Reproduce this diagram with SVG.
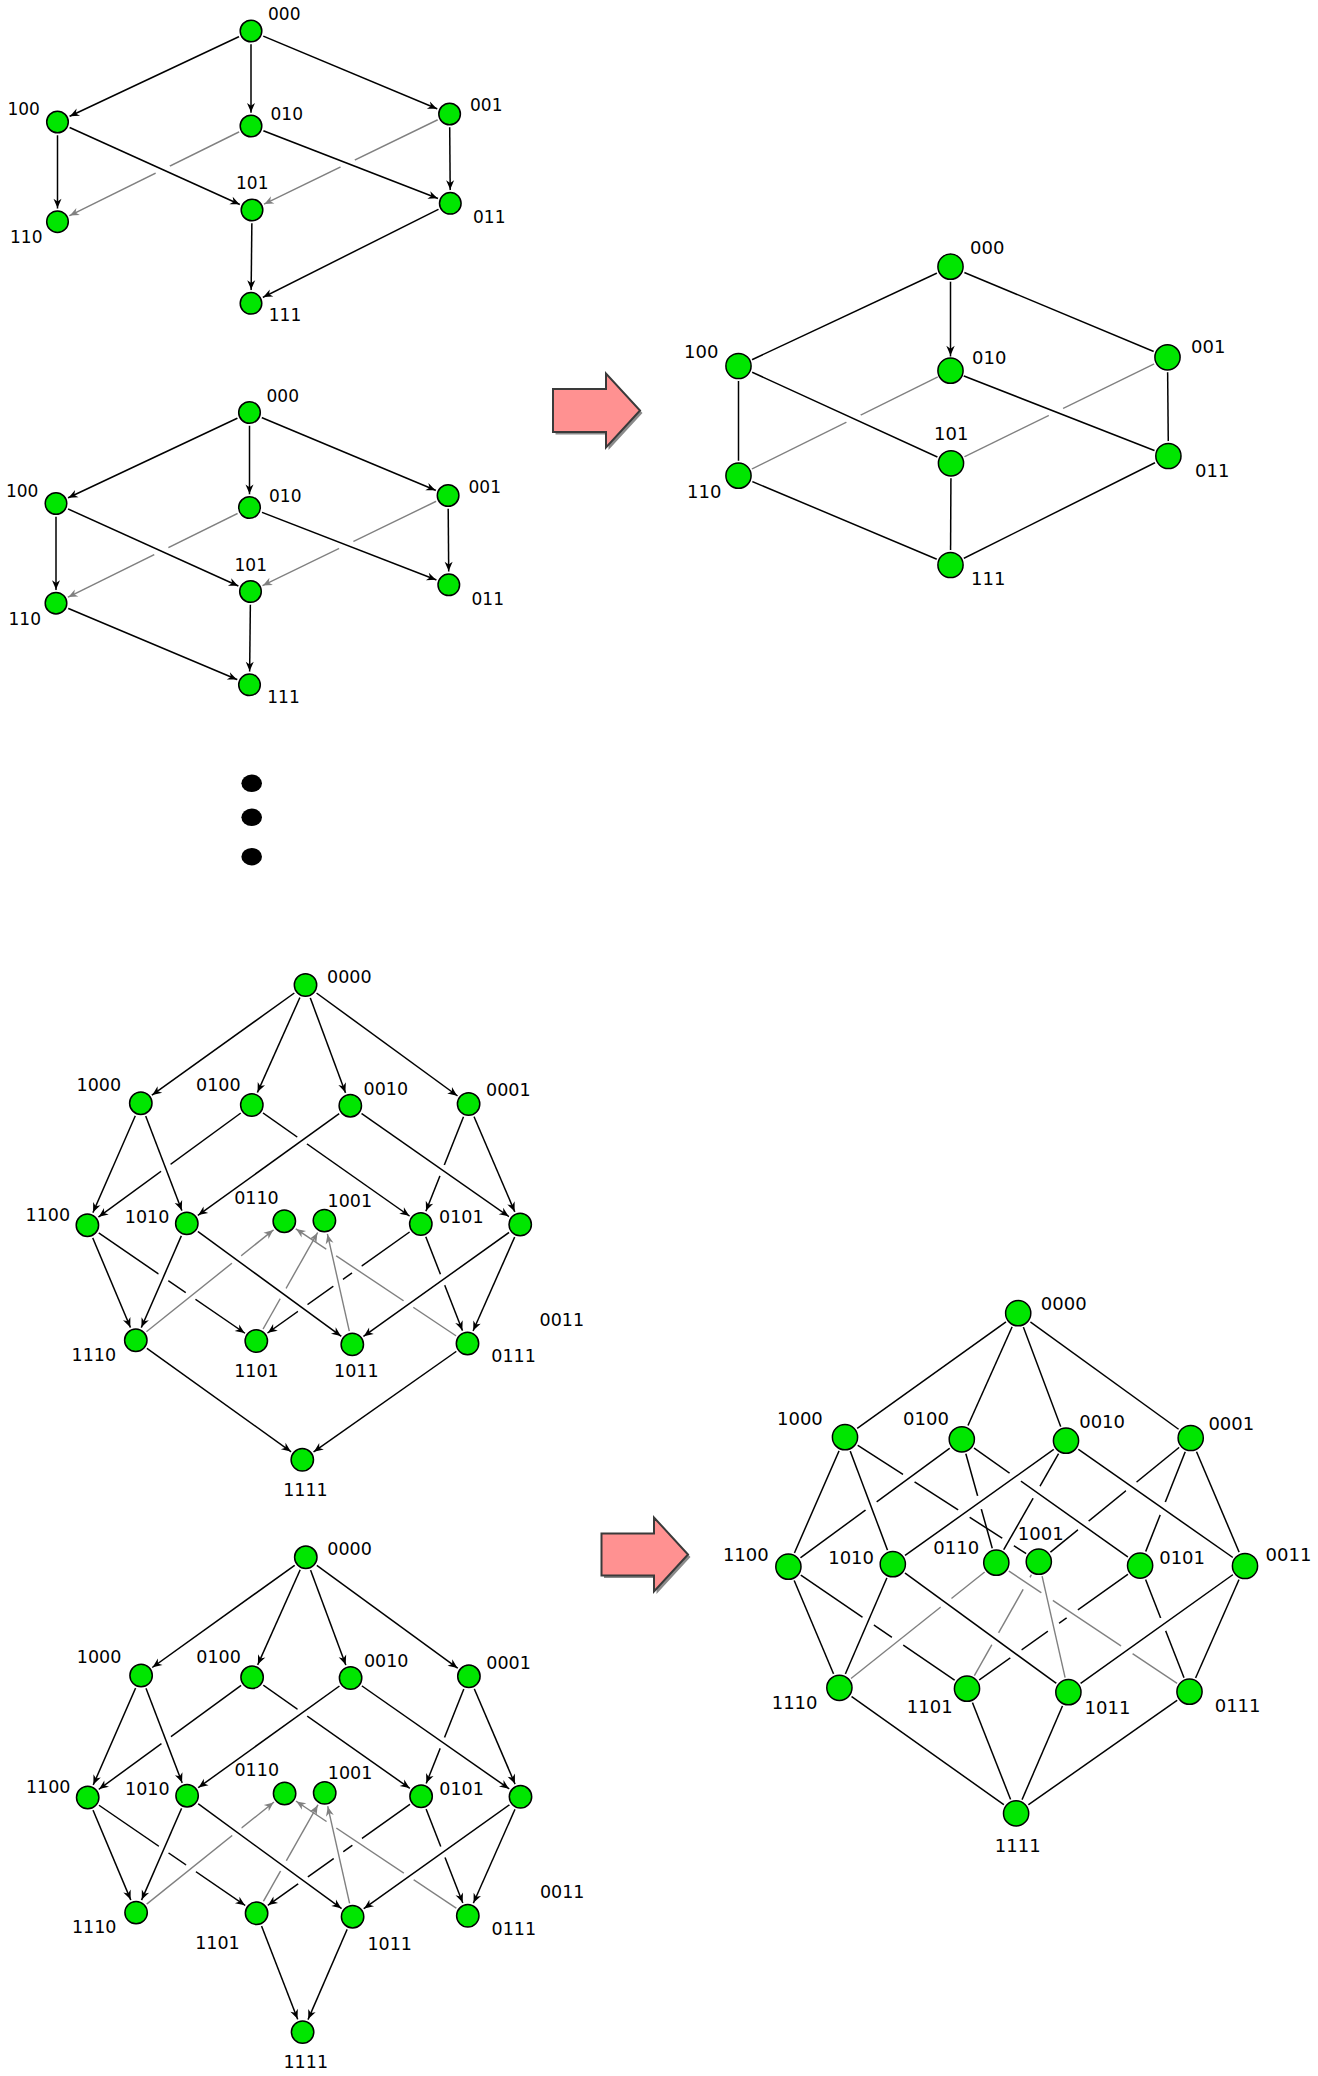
<svg xmlns="http://www.w3.org/2000/svg" width="1318" height="2076" viewBox="0 0 1318 2076">
<style>
.k{stroke:#000;stroke-width:1.5;fill:none}
.g{stroke:#808080;stroke-width:1.4;fill:none}
.n{fill:#00e600;stroke:#000;stroke-width:1.5}
.w{fill:#fff;stroke:none}
text{font-family:"DejaVu Sans",Verdana,sans-serif;fill:#000}
.f17{font-size:17px}
.f175{font-size:17.5px}
.f18{font-size:18px}
.arrow{fill:#ff9191;stroke:#3a3a3a;stroke-width:2;stroke-linejoin:miter}
.shadow{fill:#8a8a8a;stroke:none}
marker{overflow:visible}
</style>
<defs>
<marker id="k1" markerUnits="userSpaceOnUse" orient="auto" overflow="visible" markerWidth="1" markerHeight="1" refX="0" refY="0"><path d="M-13.8,0 L-23,-4 L-20.2,0 L-23,4 Z" fill="#000"/></marker>
<marker id="g1" markerUnits="userSpaceOnUse" orient="auto" overflow="visible" markerWidth="1" markerHeight="1" refX="0" refY="0"><path d="M-13.8,0 L-23,-4 L-20.2,0 L-23,4 Z" fill="#808080"/></marker>
<marker id="k3" markerUnits="userSpaceOnUse" orient="auto" overflow="visible" markerWidth="1" markerHeight="1" refX="0" refY="0"><path d="M-15.2,0 L-25,-4.2 L-22,0 L-25,4.2 Z" fill="#000"/></marker>
<marker id="k4" markerUnits="userSpaceOnUse" orient="auto" overflow="visible" markerWidth="1" markerHeight="1" refX="0" refY="0"><path d="M-14.2,0 L-23.5,-4 L-20.7,0 L-23.5,4 Z" fill="#000"/></marker>
<marker id="g4" markerUnits="userSpaceOnUse" orient="auto" overflow="visible" markerWidth="1" markerHeight="1" refX="0" refY="0"><path d="M-14.2,0 L-23.5,-4 L-20.7,0 L-23.5,4 Z" fill="#808080"/></marker>
</defs>
<rect width="1318" height="2076" fill="#fff"/>

<!-- Diagram 1 -->
<g id="d1">
<g id="d1-connectors">
<line class="g" x1="251" y1="126" x2="57.5" y2="221.7" marker-end="url(#g1)"/>
<line class="g" x1="449.6" y1="114" x2="252" y2="210" marker-end="url(#g1)"/>
<circle class="w" cx="162.8" cy="169.6" r="8"/>
<circle class="w" cx="347.7" cy="163.5" r="8"/>
<line class="k" x1="251" y1="31" x2="57.5" y2="122" marker-end="url(#k1)"/>
<line class="k" x1="251" y1="31" x2="251" y2="126" marker-end="url(#k1)"/>
<line class="k" x1="251" y1="31" x2="449.6" y2="114" marker-end="url(#k1)"/>
<line class="k" x1="57.5" y1="122" x2="57.5" y2="221.7" marker-end="url(#k1)"/>
<line class="k" x1="57.5" y1="122" x2="252" y2="210" marker-end="url(#k1)"/>
<line class="k" x1="251" y1="126" x2="450.3" y2="203.3" marker-end="url(#k1)"/>
<line class="k" x1="449.6" y1="114" x2="450.3" y2="203.3" marker-end="url(#k1)"/>
<line class="k" x1="252" y1="210" x2="251" y2="303.3" marker-end="url(#k1)"/>
<line class="k" x1="450.3" y1="203.3" x2="251" y2="303.3" marker-end="url(#k1)"/>
</g>
<g id="d1-000"><circle class="w" cx="251" cy="31" r="13.3"/><circle class="n" cx="251" cy="31" r="10.8"/><text class="f17" x="268" y="20">000</text></g>
<g id="d1-100"><circle class="w" cx="57.5" cy="122" r="13.3"/><circle class="n" cx="57.5" cy="122" r="10.8"/><text class="f17" x="7.4" y="115">100</text></g>
<g id="d1-010"><circle class="w" cx="251" cy="126" r="13.3"/><circle class="n" cx="251" cy="126" r="10.8"/><text class="f17" x="270.5" y="120">010</text></g>
<g id="d1-001"><circle class="w" cx="449.6" cy="114" r="13.3"/><circle class="n" cx="449.6" cy="114" r="10.8"/><text class="f17" x="470" y="111">001</text></g>
<g id="d1-110"><circle class="w" cx="57.5" cy="221.7" r="13.3"/><circle class="n" cx="57.5" cy="221.7" r="10.8"/><text class="f17" x="10" y="243">110</text></g>
<g id="d1-101"><circle class="w" cx="252" cy="210" r="13.3"/><circle class="n" cx="252" cy="210" r="10.8"/><text class="f17" x="236" y="189">101</text></g>
<g id="d1-011"><circle class="w" cx="450.3" cy="203.3" r="13.3"/><circle class="n" cx="450.3" cy="203.3" r="10.8"/><text class="f17" x="473" y="223">011</text></g>
<g id="d1-111"><circle class="w" cx="251" cy="303.3" r="13.3"/><circle class="n" cx="251" cy="303.3" r="10.8"/><text class="f17" x="268.8" y="321">111</text></g>
</g>

<!-- Diagram 2 -->
<g id="d2" transform="translate(-1.5,381.5)">
<g id="d2-connectors">
<line class="g" x1="251" y1="126" x2="57.5" y2="221.7" marker-end="url(#g1)"/>
<line class="g" x1="449.6" y1="114" x2="252" y2="210" marker-end="url(#g1)"/>
<circle class="w" cx="162.8" cy="169.6" r="8"/>
<circle class="w" cx="347.7" cy="163.5" r="8"/>
<line class="k" x1="251" y1="31" x2="57.5" y2="122" marker-end="url(#k1)"/>
<line class="k" x1="251" y1="31" x2="251" y2="126" marker-end="url(#k1)"/>
<line class="k" x1="251" y1="31" x2="449.6" y2="114" marker-end="url(#k1)"/>
<line class="k" x1="57.5" y1="122" x2="57.5" y2="221.7" marker-end="url(#k1)"/>
<line class="k" x1="57.5" y1="122" x2="252" y2="210" marker-end="url(#k1)"/>
<line class="k" x1="251" y1="126" x2="450.3" y2="203.3" marker-end="url(#k1)"/>
<line class="k" x1="449.6" y1="114" x2="450.3" y2="203.3" marker-end="url(#k1)"/>
<line class="k" x1="252" y1="210" x2="251" y2="303.3" marker-end="url(#k1)"/>
<line class="k" x1="57.5" y1="221.7" x2="251" y2="303.3" marker-end="url(#k1)"/>
</g>
<g id="d2-000"><circle class="w" cx="251" cy="31" r="13.3"/><circle class="n" cx="251" cy="31" r="10.8"/><text class="f17" x="268" y="20">000</text></g>
<g id="d2-100"><circle class="w" cx="57.5" cy="122" r="13.3"/><circle class="n" cx="57.5" cy="122" r="10.8"/><text class="f17" x="7.4" y="115">100</text></g>
<g id="d2-010"><circle class="w" cx="251" cy="126" r="13.3"/><circle class="n" cx="251" cy="126" r="10.8"/><text class="f17" x="270.5" y="120">010</text></g>
<g id="d2-001"><circle class="w" cx="449.6" cy="114" r="13.3"/><circle class="n" cx="449.6" cy="114" r="10.8"/><text class="f17" x="470" y="111">001</text></g>
<g id="d2-110"><circle class="w" cx="57.5" cy="221.7" r="13.3"/><circle class="n" cx="57.5" cy="221.7" r="10.8"/><text class="f17" x="10" y="243">110</text></g>
<g id="d2-101"><circle class="w" cx="252" cy="210" r="13.3"/><circle class="n" cx="252" cy="210" r="10.8"/><text class="f17" x="236" y="189">101</text></g>
<g id="d2-011"><circle class="w" cx="450.3" cy="203.3" r="13.3"/><circle class="n" cx="450.3" cy="203.3" r="10.8"/><text class="f17" x="473" y="223">011</text></g>
<g id="d2-111"><circle class="w" cx="251" cy="303.3" r="13.3"/><circle class="n" cx="251" cy="303.3" r="10.8"/><text class="f17" x="268.8" y="321">111</text></g>
</g>

<!-- Block arrows -->
<g id="arrow1">
<polygon class="shadow" points="555.5,391.5 608.5,391.5 608.5,376 642.5,413 608.5,450 608.5,434.5 555.5,434.5"/>
<polygon class="arrow" points="553,389 606,389 606,373.5 640,410.5 606,447.5 606,432 553,432"/>
</g>
<g id="arrow2">
<polygon class="shadow" points="604,1536 656.5,1536 656.5,1520 690.5,1557 656.5,1594 656.5,1578 604,1578"/>
<polygon class="arrow" points="601.5,1533.5 654,1533.5 654,1517.5 688,1554.5 654,1591.5 654,1575.5 601.5,1575.5"/>
</g>

<!-- Diagram 3 -->
<g id="d3">
<g id="d3-connectors">
<line class="g" x1="950.5" y1="370.7" x2="738.5" y2="475.7"/>
<line class="g" x1="1167.5" y1="357.3" x2="951" y2="463.3"/>
<circle class="w" cx="853.6" cy="418.7" r="8"/>
<circle class="w" cx="1055.9" cy="412" r="8"/>
<line class="k" x1="950.5" y1="266.7" x2="738.5" y2="366"/>
<line class="k" x1="950.5" y1="266.7" x2="950.5" y2="370.7" marker-end="url(#k3)"/>
<line class="k" x1="950.5" y1="266.7" x2="1167.5" y2="357.3"/>
<line class="k" x1="738.5" y1="366" x2="738.5" y2="475.7"/>
<line class="k" x1="738.5" y1="366" x2="951" y2="463.3"/>
<line class="k" x1="950.5" y1="370.7" x2="1168.4" y2="456"/>
<line class="k" x1="1167.5" y1="357.3" x2="1168.4" y2="456"/>
<line class="k" x1="951" y1="463.3" x2="950.5" y2="565"/>
<line class="k" x1="738.5" y1="475.7" x2="950.5" y2="565"/>
<line class="k" x1="1168.4" y1="456" x2="950.5" y2="565"/>
</g>
<g id="d3-000"><circle class="w" cx="950.5" cy="266.7" r="15"/><circle class="n" cx="950.5" cy="266.7" r="12.6"/><text class="f18" x="970" y="254">000</text></g>
<g id="d3-100"><circle class="w" cx="738.5" cy="366" r="15"/><circle class="n" cx="738.5" cy="366" r="12.6"/><text class="f18" x="684" y="358">100</text></g>
<g id="d3-010"><circle class="w" cx="950.5" cy="370.7" r="14.2"/><circle class="n" cx="950.5" cy="370.7" r="12.6"/><text class="f18" x="972" y="364">010</text></g>
<g id="d3-001"><circle class="w" cx="1167.5" cy="357.3" r="15"/><circle class="n" cx="1167.5" cy="357.3" r="12.6"/><text class="f18" x="1191" y="353">001</text></g>
<g id="d3-110"><circle class="w" cx="738.5" cy="475.7" r="15"/><circle class="n" cx="738.5" cy="475.7" r="12.6"/><text class="f18" x="687" y="498">110</text></g>
<g id="d3-101"><circle class="w" cx="951" cy="463.3" r="15"/><circle class="n" cx="951" cy="463.3" r="12.6"/><text class="f18" x="934" y="440">101</text></g>
<g id="d3-011"><circle class="w" cx="1168.4" cy="456" r="15"/><circle class="n" cx="1168.4" cy="456" r="12.6"/><text class="f18" x="1195" y="477">011</text></g>
<g id="d3-111"><circle class="w" cx="950.5" cy="565" r="15"/><circle class="n" cx="950.5" cy="565" r="12.6"/><text class="f18" x="971" y="585">111</text></g>
</g>

<!-- Ellipsis dots -->
<g id="dots">
<ellipse cx="251.7" cy="783.3" rx="10.3" ry="8.7" fill="#000"/>
<ellipse cx="251.7" cy="817.3" rx="10.3" ry="8.7" fill="#000"/>
<ellipse cx="251.7" cy="856.7" rx="10.3" ry="8.7" fill="#000"/>
</g>

<!-- Diagram 4 -->
<g id="d4">
<g id="d4-connectors">
<line class="k" x1="251.8" y1="1105" x2="87.4" y2="1225.2" marker-end="url(#k4)"/>
<line class="k" x1="251.8" y1="1105" x2="420.8" y2="1224" marker-end="url(#k4)"/>
<line class="k" x1="468.6" y1="1104" x2="420.8" y2="1224" marker-end="url(#k4)"/>
<line class="k" x1="87.4" y1="1225.2" x2="256.3" y2="1341" marker-end="url(#k4)"/>
<line class="k" x1="420.8" y1="1224" x2="256.3" y2="1341" marker-end="url(#k4)"/>
<line class="k" x1="420.8" y1="1224" x2="467.5" y2="1343.5" marker-end="url(#k4)"/>
<circle class="w" cx="165.8" cy="1167.7" r="6"/>
<circle class="w" cx="302.2" cy="1140.3" r="6"/>
<circle class="w" cx="442.3" cy="1170.6" r="6"/>
<circle class="w" cx="163.3" cy="1277.4" r="6"/>
<circle class="w" cx="190.6" cy="1296.1" r="6"/>
<circle class="w" cx="356.8" cy="1269.5" r="6"/>
<circle class="w" cx="338.1" cy="1282.8" r="6"/>
<circle class="w" cx="442.6" cy="1279.8" r="6"/>
<circle class="w" cx="302.7" cy="1307.9" r="6"/>
<line class="g" x1="135.8" y1="1340.3" x2="284.3" y2="1221.2" marker-end="url(#g4)"/>
<line class="g" x1="256.3" y1="1341" x2="324.4" y2="1220.6" marker-end="url(#g4)"/>
<circle class="w" cx="236.4" cy="1259.3" r="6"/>
<circle class="w" cx="283" cy="1293.4" r="6"/>
<line class="g" x1="467.5" y1="1343.5" x2="284.3" y2="1221.2" marker-end="url(#g4)"/>
<circle class="w" cx="408.5" cy="1304" r="6"/>
<circle class="w" cx="331.2" cy="1252.4" r="6"/>
<line class="g" x1="352.3" y1="1344.4" x2="324.4" y2="1220.6" marker-end="url(#g4)"/>
<line class="k" x1="305.5" y1="985" x2="140.8" y2="1103.2" marker-end="url(#k4)"/>
<line class="k" x1="305.5" y1="985" x2="251.8" y2="1105" marker-end="url(#k4)"/>
<line class="k" x1="305.5" y1="985" x2="350.3" y2="1105.7" marker-end="url(#k4)"/>
<line class="k" x1="305.5" y1="985" x2="468.6" y2="1104" marker-end="url(#k4)"/>
<line class="k" x1="140.8" y1="1103.2" x2="87.4" y2="1225.2" marker-end="url(#k4)"/>
<line class="k" x1="140.8" y1="1103.2" x2="186.8" y2="1223.4" marker-end="url(#k4)"/>
<line class="k" x1="350.3" y1="1105.7" x2="186.8" y2="1223.4" marker-end="url(#k4)"/>
<line class="k" x1="350.3" y1="1105.7" x2="520.2" y2="1224.5" marker-end="url(#k4)"/>
<line class="k" x1="468.6" y1="1104" x2="520.2" y2="1224.5" marker-end="url(#k4)"/>
<line class="k" x1="87.4" y1="1225.2" x2="135.8" y2="1340.3" marker-end="url(#k4)"/>
<line class="k" x1="186.8" y1="1223.4" x2="135.8" y2="1340.3" marker-end="url(#k4)"/>
<line class="k" x1="186.8" y1="1223.4" x2="352.3" y2="1344.4" marker-end="url(#k4)"/>
<line class="k" x1="520.2" y1="1224.5" x2="352.3" y2="1344.4" marker-end="url(#k4)"/>
<line class="k" x1="520.2" y1="1224.5" x2="467.5" y2="1343.5" marker-end="url(#k4)"/>
<line class="k" x1="135.8" y1="1340.3" x2="302.3" y2="1459.8" marker-end="url(#k4)"/>
<line class="k" x1="467.5" y1="1343.5" x2="302.3" y2="1459.8" marker-end="url(#k4)"/>
</g>
<g id="d4-0000"><circle class="w" cx="305.5" cy="985" r="13.7"/><circle class="n" cx="305.5" cy="985" r="11.2"/><text class="f175" x="327" y="983">0000</text></g>
<g id="d4-1000"><circle class="w" cx="140.8" cy="1103.2" r="13.7"/><circle class="n" cx="140.8" cy="1103.2" r="11.2"/><text class="f175" x="76.5" y="1091.2">1000</text></g>
<g id="d4-0100"><circle class="w" cx="251.8" cy="1105" r="13.7"/><circle class="n" cx="251.8" cy="1105" r="11.2"/><text class="f175" x="196" y="1091.2">0100</text></g>
<g id="d4-0010"><circle class="w" cx="350.3" cy="1105.7" r="13.7"/><circle class="n" cx="350.3" cy="1105.7" r="11.2"/><text class="f175" x="363.6" y="1094.5">0010</text></g>
<g id="d4-0001"><circle class="w" cx="468.6" cy="1104" r="13.7"/><circle class="n" cx="468.6" cy="1104" r="11.2"/><text class="f175" x="486" y="1096.3">0001</text></g>
<g id="d4-1100"><circle class="w" cx="87.4" cy="1225.2" r="13.7"/><circle class="n" cx="87.4" cy="1225.2" r="11.2"/><text class="f175" x="25.6" y="1221">1100</text></g>
<g id="d4-1010"><circle class="w" cx="186.8" cy="1223.4" r="13.7"/><circle class="n" cx="186.8" cy="1223.4" r="11.2"/><text class="f175" x="124.8" y="1222.8">1010</text></g>
<g id="d4-0110"><circle class="w" cx="284.3" cy="1221.2" r="13.7"/><circle class="n" cx="284.3" cy="1221.2" r="11.2"/><text class="f175" x="234.2" y="1204">0110</text></g>
<g id="d4-1001"><circle class="w" cx="324.4" cy="1220.6" r="13.7"/><circle class="n" cx="324.4" cy="1220.6" r="11.2"/><text class="f175" x="327.5" y="1207">1001</text></g>
<g id="d4-0101"><circle class="w" cx="420.8" cy="1224" r="13.7"/><circle class="n" cx="420.8" cy="1224" r="11.2"/><text class="f175" x="439" y="1222.5">0101</text></g>
<g id="d4-0011"><circle class="w" cx="520.2" cy="1224.5" r="13.7"/><circle class="n" cx="520.2" cy="1224.5" r="11.2"/><text class="f175" x="539.6" y="1326">0011</text></g>
<g id="d4-1110"><circle class="w" cx="135.8" cy="1340.3" r="13.7"/><circle class="n" cx="135.8" cy="1340.3" r="11.2"/><text class="f175" x="71.6" y="1361">1110</text></g>
<g id="d4-1101"><circle class="w" cx="256.3" cy="1341" r="13.7"/><circle class="n" cx="256.3" cy="1341" r="11.2"/><text class="f175" x="234.2" y="1376.5">1101</text></g>
<g id="d4-1011"><circle class="w" cx="352.3" cy="1344.4" r="13.7"/><circle class="n" cx="352.3" cy="1344.4" r="11.2"/><text class="f175" x="334" y="1377.3">1011</text></g>
<g id="d4-0111"><circle class="w" cx="467.5" cy="1343.5" r="13.7"/><circle class="n" cx="467.5" cy="1343.5" r="11.2"/><text class="f175" x="491.3" y="1362.3">0111</text></g>
<g id="d4-1111"><circle class="w" cx="302.3" cy="1459.8" r="13.7"/><circle class="n" cx="302.3" cy="1459.8" r="11.2"/><text class="f175" x="283.2" y="1496">1111</text></g>
</g>

<!-- Diagram 5 -->
<g id="d5" transform="translate(0.3,572.3)">
<g id="d5-connectors">
<line class="k" x1="251.8" y1="1105" x2="87.4" y2="1225.2" marker-end="url(#k4)"/>
<line class="k" x1="251.8" y1="1105" x2="420.8" y2="1224" marker-end="url(#k4)"/>
<line class="k" x1="468.6" y1="1104" x2="420.8" y2="1224" marker-end="url(#k4)"/>
<line class="k" x1="87.4" y1="1225.2" x2="256.3" y2="1341" marker-end="url(#k4)"/>
<line class="k" x1="420.8" y1="1224" x2="256.3" y2="1341" marker-end="url(#k4)"/>
<line class="k" x1="420.8" y1="1224" x2="467.5" y2="1343.5" marker-end="url(#k4)"/>
<circle class="w" cx="165.8" cy="1167.7" r="6"/>
<circle class="w" cx="302.2" cy="1140.3" r="6"/>
<circle class="w" cx="442.3" cy="1170.6" r="6"/>
<circle class="w" cx="163.3" cy="1277.4" r="6"/>
<circle class="w" cx="190.6" cy="1296.1" r="6"/>
<circle class="w" cx="356.8" cy="1269.5" r="6"/>
<circle class="w" cx="338.1" cy="1282.8" r="6"/>
<circle class="w" cx="442.6" cy="1279.8" r="6"/>
<circle class="w" cx="302.7" cy="1307.9" r="6"/>
<line class="g" x1="135.8" y1="1340.3" x2="284.3" y2="1221.2" marker-end="url(#g4)"/>
<line class="g" x1="256.3" y1="1341" x2="324.4" y2="1220.6" marker-end="url(#g4)"/>
<circle class="w" cx="236.4" cy="1259.3" r="6"/>
<circle class="w" cx="283" cy="1293.4" r="6"/>
<line class="g" x1="467.5" y1="1343.5" x2="284.3" y2="1221.2" marker-end="url(#g4)"/>
<circle class="w" cx="408.5" cy="1304" r="6"/>
<circle class="w" cx="331.2" cy="1252.4" r="6"/>
<line class="g" x1="352.3" y1="1344.4" x2="324.4" y2="1220.6" marker-end="url(#g4)"/>
<line class="k" x1="305.5" y1="985" x2="140.8" y2="1103.2" marker-end="url(#k4)"/>
<line class="k" x1="305.5" y1="985" x2="251.8" y2="1105" marker-end="url(#k4)"/>
<line class="k" x1="305.5" y1="985" x2="350.3" y2="1105.7" marker-end="url(#k4)"/>
<line class="k" x1="305.5" y1="985" x2="468.6" y2="1104" marker-end="url(#k4)"/>
<line class="k" x1="140.8" y1="1103.2" x2="87.4" y2="1225.2" marker-end="url(#k4)"/>
<line class="k" x1="140.8" y1="1103.2" x2="186.8" y2="1223.4" marker-end="url(#k4)"/>
<line class="k" x1="350.3" y1="1105.7" x2="186.8" y2="1223.4" marker-end="url(#k4)"/>
<line class="k" x1="350.3" y1="1105.7" x2="520.2" y2="1224.5" marker-end="url(#k4)"/>
<line class="k" x1="468.6" y1="1104" x2="520.2" y2="1224.5" marker-end="url(#k4)"/>
<line class="k" x1="87.4" y1="1225.2" x2="135.8" y2="1340.3" marker-end="url(#k4)"/>
<line class="k" x1="186.8" y1="1223.4" x2="135.8" y2="1340.3" marker-end="url(#k4)"/>
<line class="k" x1="186.8" y1="1223.4" x2="352.3" y2="1344.4" marker-end="url(#k4)"/>
<line class="k" x1="520.2" y1="1224.5" x2="352.3" y2="1344.4" marker-end="url(#k4)"/>
<line class="k" x1="520.2" y1="1224.5" x2="467.5" y2="1343.5" marker-end="url(#k4)"/>
<line class="k" x1="256.3" y1="1341" x2="302.3" y2="1459.8" marker-end="url(#k4)"/>
<line class="k" x1="352.3" y1="1344.4" x2="302.3" y2="1459.8" marker-end="url(#k4)"/>
</g>
<g id="d5-0000"><circle class="w" cx="305.5" cy="985" r="13.7"/><circle class="n" cx="305.5" cy="985" r="11.2"/><text class="f175" x="327" y="983">0000</text></g>
<g id="d5-1000"><circle class="w" cx="140.8" cy="1103.2" r="13.7"/><circle class="n" cx="140.8" cy="1103.2" r="11.2"/><text class="f175" x="76.5" y="1091.2">1000</text></g>
<g id="d5-0100"><circle class="w" cx="251.8" cy="1105" r="13.7"/><circle class="n" cx="251.8" cy="1105" r="11.2"/><text class="f175" x="196" y="1091.2">0100</text></g>
<g id="d5-0010"><circle class="w" cx="350.3" cy="1105.7" r="13.7"/><circle class="n" cx="350.3" cy="1105.7" r="11.2"/><text class="f175" x="363.6" y="1094.5">0010</text></g>
<g id="d5-0001"><circle class="w" cx="468.6" cy="1104" r="13.7"/><circle class="n" cx="468.6" cy="1104" r="11.2"/><text class="f175" x="486" y="1096.3">0001</text></g>
<g id="d5-1100"><circle class="w" cx="87.4" cy="1225.2" r="13.7"/><circle class="n" cx="87.4" cy="1225.2" r="11.2"/><text class="f175" x="25.6" y="1221">1100</text></g>
<g id="d5-1010"><circle class="w" cx="186.8" cy="1223.4" r="13.7"/><circle class="n" cx="186.8" cy="1223.4" r="11.2"/><text class="f175" x="124.8" y="1222.8">1010</text></g>
<g id="d5-0110"><circle class="w" cx="284.3" cy="1221.2" r="13.7"/><circle class="n" cx="284.3" cy="1221.2" r="11.2"/><text class="f175" x="234.2" y="1204">0110</text></g>
<g id="d5-1001"><circle class="w" cx="324.4" cy="1220.6" r="13.7"/><circle class="n" cx="324.4" cy="1220.6" r="11.2"/><text class="f175" x="327.5" y="1207">1001</text></g>
<g id="d5-0101"><circle class="w" cx="420.8" cy="1224" r="13.7"/><circle class="n" cx="420.8" cy="1224" r="11.2"/><text class="f175" x="439" y="1222.5">0101</text></g>
<g id="d5-0011"><circle class="w" cx="520.2" cy="1224.5" r="13.7"/><circle class="n" cx="520.2" cy="1224.5" r="11.2"/><text class="f175" x="539.6" y="1326">0011</text></g>
<g id="d5-1110"><circle class="w" cx="135.8" cy="1340.3" r="13.7"/><circle class="n" cx="135.8" cy="1340.3" r="11.2"/><text class="f175" x="71.6" y="1361">1110</text></g>
<g id="d5-1101"><circle class="w" cx="256.3" cy="1341" r="13.7"/><circle class="n" cx="256.3" cy="1341" r="11.2"/><text class="f175" x="194.9" y="1376.3">1101</text></g>
<g id="d5-1011"><circle class="w" cx="352.3" cy="1344.4" r="13.7"/><circle class="n" cx="352.3" cy="1344.4" r="11.2"/><text class="f175" x="367.1" y="1377.4">1011</text></g>
<g id="d5-0111"><circle class="w" cx="467.5" cy="1343.5" r="13.7"/><circle class="n" cx="467.5" cy="1343.5" r="11.2"/><text class="f175" x="491.3" y="1362.3">0111</text></g>
<g id="d5-1111"><circle class="w" cx="302.3" cy="1459.8" r="13.7"/><circle class="n" cx="302.3" cy="1459.8" r="11.2"/><text class="f175" x="283.2" y="1496">1111</text></g>
</g>

<!-- Diagram 6 -->
<g id="d6">
<g id="d6-connectors">
<line class="k" x1="845" y1="1437.2" x2="1038.8" y2="1561.7"/>
<line class="k" x1="1190.7" y1="1438" x2="1038.8" y2="1561.7"/>
<line class="k" x1="1190.7" y1="1438" x2="1140.1" y2="1565.6"/>
<line class="k" x1="788.4" y1="1566.7" x2="967" y2="1688.7"/>
<line class="k" x1="1140.1" y1="1565.6" x2="967" y2="1688.7"/>
<line class="k" x1="1140.1" y1="1565.6" x2="1189.5" y2="1691.7"/>
<line class="k" x1="961.8" y1="1439.3" x2="996.3" y2="1562.7"/>
<circle class="w" cx="908.8" cy="1478.1" r="7"/>
<circle class="w" cx="963.9" cy="1513.6" r="7"/>
<circle class="w" cx="1008" cy="1542" r="7"/>
<circle class="w" cx="1131.4" cy="1486.6" r="7"/>
<circle class="w" cx="1083.5" cy="1525.7" r="7"/>
<circle class="w" cx="1162.9" cy="1508.6" r="7"/>
<circle class="w" cx="868" cy="1621.5" r="7"/>
<circle class="w" cx="897.4" cy="1641.5" r="7"/>
<circle class="w" cx="1072.4" cy="1614.1" r="7"/>
<circle class="w" cx="1053.6" cy="1627.4" r="7"/>
<circle class="w" cx="1016.1" cy="1654.1" r="7"/>
<circle class="w" cx="1162.8" cy="1624.5" r="7"/>
<circle class="w" cx="979.4" cy="1502.5" r="7"/>
<line class="k" x1="961.8" y1="1439.3" x2="788.4" y2="1566.7"/>
<line class="k" x1="1066" y1="1440.7" x2="996.3" y2="1562.7"/>
<line class="g" x1="1038.8" y1="1561.7" x2="967" y2="1688.7"/>
<line class="g" x1="996.3" y1="1562.7" x2="839.4" y2="1687.8"/>
<circle class="w" cx="871.1" cy="1505.9" r="7"/>
<circle class="w" cx="1036.6" cy="1492.2" r="7"/>
<circle class="w" cx="995.4" cy="1638.9" r="7"/>
<circle class="w" cx="1026.8" cy="1583.6" r="7"/>
<circle class="w" cx="946" cy="1602.8" r="7"/>
<line class="k" x1="961.8" y1="1439.3" x2="1140.1" y2="1565.6"/>
<line class="g" x1="996.3" y1="1562.7" x2="1189.5" y2="1691.7"/>
<circle class="w" cx="1015.3" cy="1477" r="7"/>
<circle class="w" cx="1046.8" cy="1596.9" r="7"/>
<circle class="w" cx="1126.6" cy="1650.3" r="7"/>
<line class="k" x1="1018.2" y1="1313.2" x2="845" y2="1437.2"/>
<line class="k" x1="1018.2" y1="1313.2" x2="961.8" y2="1439.3"/>
<line class="k" x1="1018.2" y1="1313.2" x2="1066" y2="1440.7"/>
<line class="k" x1="1018.2" y1="1313.2" x2="1190.7" y2="1438"/>
<line class="k" x1="845" y1="1437.2" x2="788.4" y2="1566.7"/>
<line class="k" x1="845" y1="1437.2" x2="892.8" y2="1564.2"/>
<line class="k" x1="1066" y1="1440.7" x2="892.8" y2="1564.2"/>
<line class="k" x1="1066" y1="1440.7" x2="1245" y2="1566"/>
<line class="k" x1="1190.7" y1="1438" x2="1245" y2="1566"/>
<line class="k" x1="788.4" y1="1566.7" x2="839.4" y2="1687.8"/>
<line class="k" x1="892.8" y1="1564.2" x2="839.4" y2="1687.8"/>
<line class="k" x1="892.8" y1="1564.2" x2="1068.4" y2="1692.2"/>
<line class="g" x1="1038.8" y1="1561.7" x2="1068.4" y2="1692.2"/>
<line class="k" x1="1245" y1="1566" x2="1068.4" y2="1692.2"/>
<line class="k" x1="1245" y1="1566" x2="1189.5" y2="1691.7"/>
<line class="k" x1="839.4" y1="1687.8" x2="1016.1" y2="1813.4"/>
<line class="k" x1="967" y1="1688.7" x2="1016.1" y2="1813.4"/>
<line class="k" x1="1068.4" y1="1692.2" x2="1016.1" y2="1813.4"/>
<line class="k" x1="1189.5" y1="1691.7" x2="1016.1" y2="1813.4"/>
</g>
<g id="d6-0000"><circle class="w" cx="1018.2" cy="1313.2" r="15"/><circle class="n" cx="1018.2" cy="1313.2" r="12.6"/><text class="f18" x="1040.8" y="1310.1">0000</text></g>
<g id="d6-1000"><circle class="w" cx="845" cy="1437.2" r="15"/><circle class="n" cx="845" cy="1437.2" r="12.6"/><text class="f18" x="777" y="1425">1000</text></g>
<g id="d6-0100"><circle class="w" cx="961.8" cy="1439.3" r="15"/><circle class="n" cx="961.8" cy="1439.3" r="12.6"/><text class="f18" x="903.1" y="1425">0100</text></g>
<g id="d6-0010"><circle class="w" cx="1066" cy="1440.7" r="15"/><circle class="n" cx="1066" cy="1440.7" r="12.6"/><text class="f18" x="1079.2" y="1428.2">0010</text></g>
<g id="d6-0001"><circle class="w" cx="1190.7" cy="1438" r="15"/><circle class="n" cx="1190.7" cy="1438" r="12.6"/><text class="f18" x="1208.4" y="1430.4">0001</text></g>
<g id="d6-1100"><circle class="w" cx="788.4" cy="1566.7" r="15"/><circle class="n" cx="788.4" cy="1566.7" r="12.6"/><text class="f18" x="722.9" y="1560.8">1100</text></g>
<g id="d6-1010"><circle class="w" cx="892.8" cy="1564.2" r="15"/><circle class="n" cx="892.8" cy="1564.2" r="12.6"/><text class="f18" x="828.2" y="1563.6">1010</text></g>
<g id="d6-0110"><circle class="w" cx="996.3" cy="1562.7" r="15"/><circle class="n" cx="996.3" cy="1562.7" r="12.6"/><text class="f18" x="933.3" y="1553.7">0110</text></g>
<g id="d6-1001"><circle class="w" cx="1038.8" cy="1561.7" r="15"/><circle class="n" cx="1038.8" cy="1561.7" r="12.6"/><text class="f18" x="1017.8" y="1539.9">1001</text></g>
<g id="d6-0101"><circle class="w" cx="1140.1" cy="1565.6" r="15"/><circle class="n" cx="1140.1" cy="1565.6" r="12.6"/><text class="f18" x="1159.2" y="1563.6">0101</text></g>
<g id="d6-0011"><circle class="w" cx="1245" cy="1566" r="15"/><circle class="n" cx="1245" cy="1566" r="12.6"/><text class="f18" x="1265.6" y="1560.8">0011</text></g>
<g id="d6-1110"><circle class="w" cx="839.4" cy="1687.8" r="15"/><circle class="n" cx="839.4" cy="1687.8" r="12.6"/><text class="f18" x="771.7" y="1708.8">1110</text></g>
<g id="d6-1101"><circle class="w" cx="967" cy="1688.7" r="15"/><circle class="n" cx="967" cy="1688.7" r="12.6"/><text class="f18" x="906.8" y="1713">1101</text></g>
<g id="d6-1011"><circle class="w" cx="1068.4" cy="1692.2" r="15"/><circle class="n" cx="1068.4" cy="1692.2" r="12.6"/><text class="f18" x="1084.6" y="1713.6">1011</text></g>
<g id="d6-0111"><circle class="w" cx="1189.5" cy="1691.7" r="15"/><circle class="n" cx="1189.5" cy="1691.7" r="12.6"/><text class="f18" x="1214.7" y="1711.5">0111</text></g>
<g id="d6-1111"><circle class="w" cx="1016.1" cy="1813.4" r="15"/><circle class="n" cx="1016.1" cy="1813.4" r="12.6"/><text class="f18" x="994.8" y="1851.7">1111</text></g>
</g>
</svg>
